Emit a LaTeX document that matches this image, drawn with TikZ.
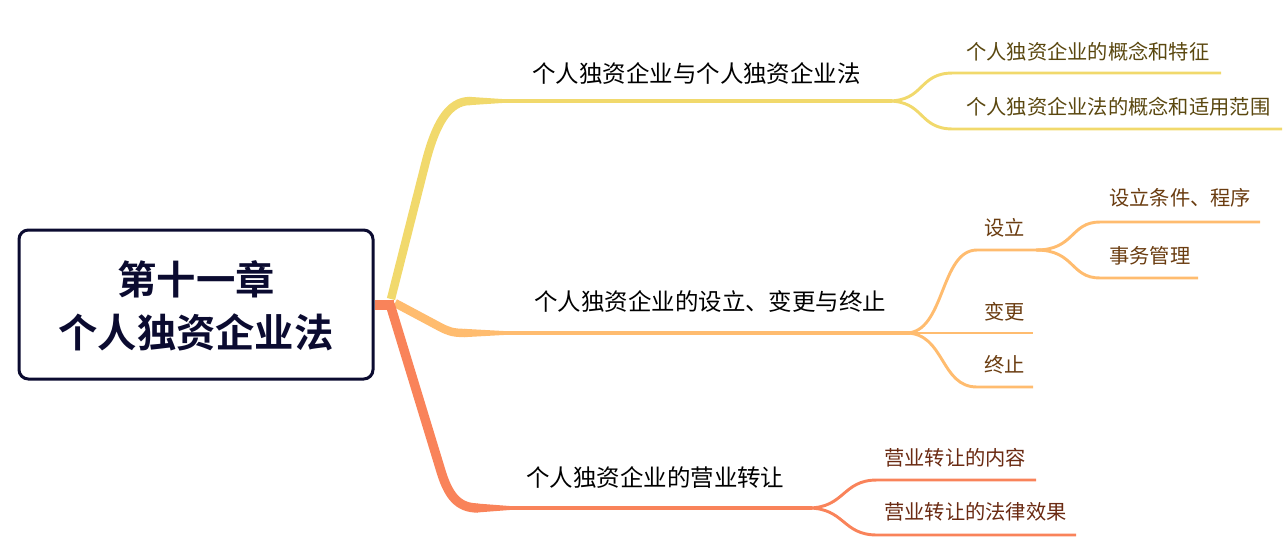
\documentclass[tikz,border=0pt]{standalone}
\usepackage{fontspec}
\setmainfont{Noto Sans CJK SC}[BoldFont={Noto Sans CJK SC Bold}]
\definecolor{cy}{HTML}{F1D96C}
\definecolor{co}{HTML}{FFBC6F}
\definecolor{cc}{HTML}{F9835A}
\definecolor{navy}{HTML}{0B0B30}
\definecolor{ty}{HTML}{5A470F}
\definecolor{to}{HTML}{6A3C10}
\definecolor{tc}{HTML}{6A2A12}
\tikzset{
  maintext/.style={anchor=west,inner sep=0pt,font=\fontsize{17.6}{20}\selectfont,text=black},
  subtext/.style={anchor=west,inner sep=0pt,font=\fontsize{15.2}{17}\selectfont},
  thickbr/.style={line width=6.3pt,line cap=butt},
  stem/.style={line width=2.6pt},
  sub/.style={line width=2.2pt},
}
\begin{document}
\begin{tikzpicture}[x=0.75pt,y=-0.75pt]
\useasboundingbox (0,0) rectangle (1286,558);
% root
\node[draw=navy,line width=2.25pt,rounded corners=7pt,minimum width=354*0.75pt,minimum height=149*0.75pt,inner sep=0pt] (root) at (196,304.5) {};
\node[align=center,text=navy,font=\bfseries\fontsize{29.5}{40}\selectfont,inner sep=0pt] (roott) at (196,306) {第十一章\\个人独资企业法};
\coordinate (j) at (root.east |- 0,305);
\coordinate (j1) at (391,299);
\coordinate (j2) at (395,303);
\coordinate (j3) at (390,304);
% branch 1 yellow
\coordinate (b1a) at (470,101);
\coordinate (b1b) at (505,101);
\coordinate (b1c) at (892,101);
\draw[cy,thickbr] (j1) -- (425,165) .. controls (435,125) and (448,101) .. (b1a);
\fill[cy] (469,96.8) -- (b1b |- 0,99.2) -- (b1b |- 0,102.8) -- (469,105.2) -- cycle;
\draw[cy,stem] (503,101) -- (b1c);
\node[maintext] (m1) at (532,73) {个人独资企业与个人独资企业法};
\coordinate (y1) at (953,73);
\coordinate (y1e) at (1221,73);
\coordinate (y2) at (953,129);
\coordinate (y2e) at (1282,129);
\draw[cy,sub] (888,101) .. controls (925,101) and (918,73) .. (y1) -- (y1e);
\draw[cy,sub] (888,101) .. controls (925,101) and (918,129) .. (y2) -- (y2e);
\node[subtext,text=ty] (s11) at (966,52) {个人独资企业的概念和特征};
\node[subtext,text=ty] (s12) at (966,107) {个人独资企业法的概念和适用范围};
% branch 2 orange
\coordinate (b2a) at (465,333);
\coordinate (b2c) at (910,333);
\draw[co,thickbr] (j2) -- (440,327) .. controls (448,331) and (452,333) .. (b2a);
\fill[co] (464,328.8) -- (507,331.2) -- (507,334.8) -- (464,337.2) -- cycle;
\draw[co,stem] (505,333) -- (b2c);
\node[maintext] (m2) at (534,302) {个人独资企业的设立、变更与终止};
\coordinate (o1) at (977,250);
\coordinate (o1e) at (1042,250);
\coordinate (o2e) at (1033,333);
\coordinate (o3) at (977,387);
\coordinate (o3e) at (1033,387);
\draw[co,sub] (906,333) .. controls (945,333) and (940,250) .. (o1) -- (o1e);
\draw[co,sub] (906,333) -- (o2e);
\draw[co,sub] (906,333) .. controls (945,333) and (940,387) .. (o3) -- (o3e);
\node[subtext,text=to] (s21) at (984,228) {设立};
\node[subtext,text=to] (s22) at (984,312) {变更};
\node[subtext,text=to] (s23) at (984,365) {终止};
\coordinate (g1) at (1100,222);
\coordinate (g1e) at (1260,222);
\coordinate (g2) at (1100,278);
\coordinate (g2e) at (1198,278);
\draw[co,sub] (1036,250) .. controls (1075,250) and (1070,222) .. (g1) -- (g1e);
\draw[co,sub] (1036,250) .. controls (1075,250) and (1070,278) .. (g2) -- (g2e);
\node[subtext,text=to] (s211) at (1109,198) {设立条件、程序};
\node[subtext,text=to] (s212) at (1109,256) {事务管理};
% branch 3 coral
\coordinate (b3a) at (478,508);
\coordinate (b3c) at (812,508);
\draw[cc,line width=7pt] (j3) -- (440,468) .. controls (448,496) and (458,508) .. (b3a);
\fill[cc] (477,503.5) -- (512,506.2) -- (512,509.8) -- (477,512.5) -- cycle;
\draw[cc,stem] (510,508) -- (b3c);
\draw[cc,line width=7.5pt] (j) -- (394,305);
\node[maintext] (m3) at (526,478) {个人独资企业的营业转让};
\coordinate (c1) at (877,480);
\coordinate (c1e) at (1036,480);
\coordinate (c2) at (877,535);
\coordinate (c2e) at (1076,535);
\draw[cc,sub] (808,508) .. controls (845,508) and (842,480) .. (c1) -- (c1e);
\draw[cc,sub] (808,508) .. controls (845,508) and (842,535) .. (c2) -- (c2e);
\node[subtext,text=tc] (s31) at (884,458) {营业转让的内容};
\node[subtext,text=tc] (s32) at (884,512) {营业转让的法律效果};
\end{tikzpicture}
\end{document}
